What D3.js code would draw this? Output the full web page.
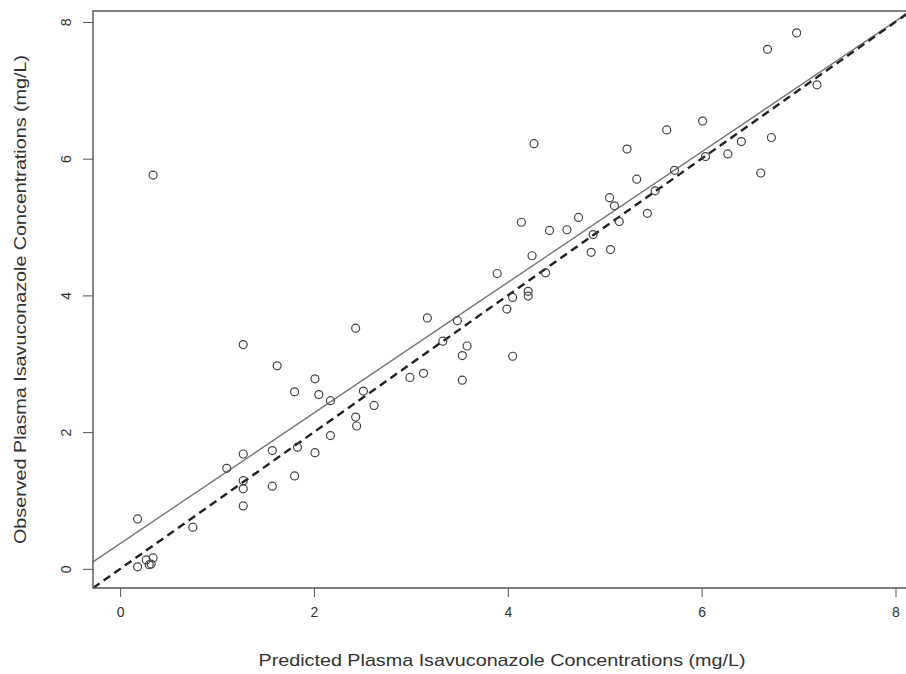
<!DOCTYPE html>
<html>
<head>
<meta charset="utf-8">
<script src="https://cdn.jsdelivr.net/npm/d3@7"></script>
<style>
  html, body { margin: 0; padding: 0; background: #fff; overflow: hidden; }
  svg { display: block; }
  text { font-family: "Liberation Sans", Arial, sans-serif; fill: #333; }
</style>
</head>
<body>
<svg id="chart"></svg>
<script>
const width = 906;
const height = 674;

// predicted vs observed isavuconazole concentrations (mg/L)
const predicted = [
  0.18, 0.18, 0.27, 0.34, 0.30, 0.32, 0.34, 0.75, 1.10, 1.27,
  1.27, 1.27, 1.27, 1.27, 1.57, 1.57, 1.62, 1.80, 1.80, 1.83,
  2.01, 2.01, 2.05, 2.17, 2.17, 2.43, 2.43, 2.44, 2.51, 2.62,
  2.99, 3.13, 3.17, 3.33, 3.48, 3.53, 3.53, 3.58, 3.89, 3.99,
  4.05, 4.05, 4.14, 4.21, 4.21, 4.25, 4.27, 4.39, 4.43, 4.61,
  4.73, 4.86, 4.88, 5.05, 5.06, 5.10, 5.15, 5.23, 5.33, 5.44,
  5.52, 5.64, 5.72, 6.01, 6.04, 6.27, 6.41, 6.61, 6.68, 6.72,
  6.98, 7.19
];
const observed = [
  0.73, 0.03, 0.13, 0.16, 0.06, 0.07, 5.76, 0.61, 1.47, 3.28,
  1.68, 1.29, 1.17, 0.92, 1.73, 1.21, 2.97, 2.59, 1.36, 1.78,
  2.78, 1.70, 2.55, 2.46, 1.95, 3.52, 2.22, 2.09, 2.60, 2.39,
  2.80, 2.86, 3.67, 3.33, 3.63, 3.12, 2.76, 3.26, 4.32, 3.80,
  3.97, 3.11, 5.07, 3.99, 4.06, 4.58, 6.22, 4.33, 4.95, 4.96,
  5.14, 4.63, 4.89, 5.43, 4.67, 5.31, 5.08, 6.14, 5.70, 5.20,
  5.53, 6.42, 5.83, 6.55, 6.03, 6.07, 6.25, 5.79, 7.60, 6.31,
  7.84, 7.08
];
const ticks = [0, 2, 4, 6, 8];
const axisDomain = [-0.28, 8.16];

// regression line as drawn in the figure (intercept, slope)
const fitIntercept = 0.37;
const fitSlope = 0.955;

const data = predicted.map((p, i) => ({pred: p, obs: observed[i]}));

const svg = d3.select("#chart")
  .attr("width", width)
  .attr("height", height);

const plotLeft = 93, plotRight = 911, plotTop = 11, plotBottom = 588;

const x = d3.scaleLinear().domain(axisDomain).range([plotLeft, plotRight]);
const y = d3.scaleLinear().domain(axisDomain).range([plotBottom, plotTop]);

svg.append("defs").append("clipPath").attr("id", "clip")
  .append("rect")
  .attr("x", plotLeft).attr("y", plotTop)
  .attr("width", plotRight - plotLeft).attr("height", plotBottom - plotTop);

const plot = svg.append("g").attr("clip-path", "url(#clip)");

// regression line
plot.append("line")
  .attr("x1", x(axisDomain[0])).attr("y1", y(fitIntercept + fitSlope * axisDomain[0]))
  .attr("x2", x(axisDomain[1])).attr("y2", y(fitIntercept + fitSlope * axisDomain[1]))
  .attr("stroke", "#777")
  .attr("stroke-width", 1.4);

// line of identity
plot.append("line")
  .attr("x1", x(axisDomain[0])).attr("y1", y(axisDomain[0]))
  .attr("x2", x(axisDomain[1])).attr("y2", y(axisDomain[1]))
  .attr("stroke", "#222")
  .attr("stroke-width", 2.4)
  .attr("stroke-dasharray", "8,5");

// points
plot.selectAll(".dot")
  .data(data)
  .enter()
  .append("circle")
  .attr("class", "dot")
  .attr("cx", d => x(d.pred))
  .attr("cy", d => y(d.obs))
  .attr("r", 4)
  .attr("fill", "none")
  .attr("stroke", "#444")
  .attr("stroke-width", 1.2);

// box (right side falls outside the picture)
svg.append("path")
  .attr("d", `M${plotRight + 5},${plotTop}H${plotLeft}V${plotBottom}H${plotRight + 5}`)
  .attr("fill", "none")
  .attr("stroke", "#555")
  .attr("stroke-width", 1.4);

// Axes
const xAxis = d3.axisBottom(x).tickValues(ticks).tickSize(9).tickPadding(10).tickFormat(d3.format("d"));
const yAxis = d3.axisLeft(y).tickValues(ticks).tickSize(10).tickFormat(d3.format("d"));

const gx = svg.append("g")
  .attr("transform", `translate(0,${plotBottom})`)
  .call(xAxis);
gx.select(".domain").remove();
gx.selectAll(".tick line").attr("stroke", "#555");
gx.selectAll(".tick text").attr("font-size", "14px").attr("fill", "#333");

const gy = svg.append("g")
  .attr("transform", `translate(${plotLeft},0)`)
  .call(yAxis);
gy.select(".domain").remove();
gy.selectAll(".tick line").attr("stroke", "#555");
gy.selectAll(".tick text")
  .attr("font-size", "14px").attr("fill", "#333")
  .attr("x", null).attr("dy", null)
  .attr("text-anchor", "middle")
  .attr("transform", "translate(-27,0) rotate(-90)")
  .attr("y", 0)
  .attr("dy", "0.35em");

svg.append("text")
  .attr("x", (plotLeft + plotRight) / 2)
  .attr("y", 666)
  .attr("text-anchor", "middle")
  .attr("font-size", "17px")
  .attr("textLength", 487)
  .attr("lengthAdjust", "spacingAndGlyphs")
  .text("Predicted Plasma Isavuconazole Concentrations (mg/L)");

svg.append("text")
  .attr("transform", `translate(26,${(plotTop + plotBottom) / 2}) rotate(-90)`)
  .attr("text-anchor", "middle")
  .attr("font-size", "17px")
  .attr("textLength", 489)
  .attr("lengthAdjust", "spacingAndGlyphs")
  .text("Observed Plasma Isavuconazole Concentrations (mg/L)");
</script>
</body>
</html>
